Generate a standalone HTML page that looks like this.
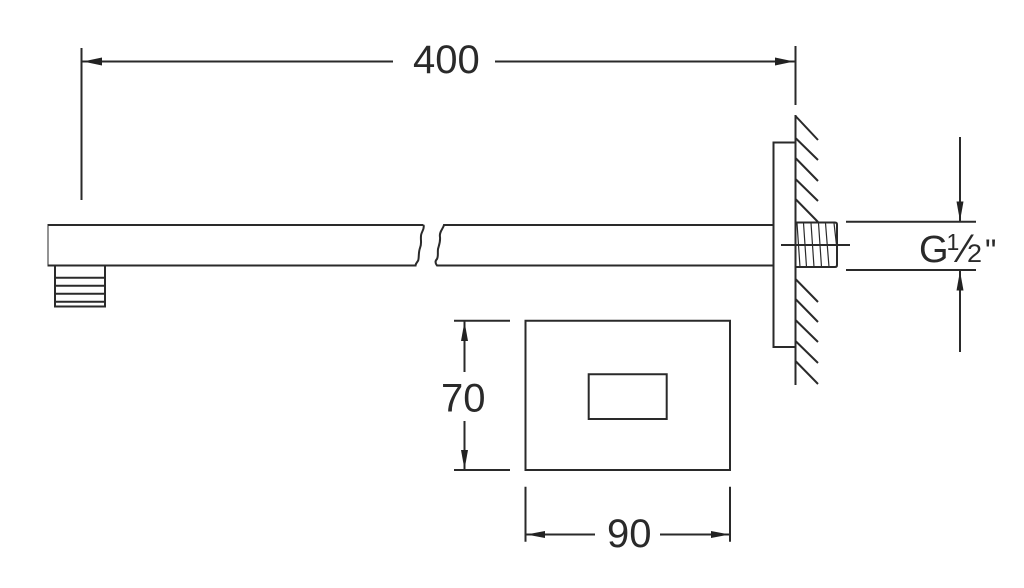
<!DOCTYPE html>
<html>
<head>
<meta charset="utf-8">
<style>
html,body{margin:0;padding:0;background:#fff;width:1024px;height:588px;overflow:hidden}
svg{display:block}
text{font-family:"Liberation Sans",sans-serif;fill:#2a2a2a}
</style>
</head>
<body>
<svg width="1024" height="588" viewBox="0 0 1024 588" xmlns="http://www.w3.org/2000/svg">
<defs><filter id="b" x="0" y="0" width="100%" height="100%"><feGaussianBlur stdDeviation="0.35"/></filter></defs>
<rect width="1024" height="588" fill="#fff"/>
<g filter="url(#b)">
<g fill="none" stroke="#2a2a2a" stroke-width="2">
  <!-- top dimension -->
  <path d="M81.500 48V200M795.500 46V105M82 61.500H393M495 61.500H795"/>
  <!-- arm -->
  <path d="M423.500 225H47.500V265.500H416.500"/>
  <path d="M423.500 225C425 229 421 232 421 236C420.500 241 422 243 420 248C418.500 252 419 256 418.500 259C418.500 262 416 262 415.500 265.500"/>
  <path d="M773 225H444C443 229 439 232 440 237C440.500 242 439 245 438 249C437.500 253 438.500 256 437 259C435 261 435 263 437 265.500H773"/>
  <!-- nozzle -->
  <path d="M55 265.500V306.500H105V265.500M55 277.700H105M55 285.700H105M55 293.700H105M55 301.700H105"/>
  <!-- flange and wall -->
  <path d="M795.500 142.500H773.500V347H795.500M795.500 115V385"/>
  <path d="M795.500 116L818 140M795.500 138L818 160M795.500 158L818 181M795.500 179L818 201M795.500 199L818 222M795.500 279L818 302M795.500 299L818 322M795.500 320L818 342M795.500 341L818 363M795.500 361L818 384"/>
  <!-- thread -->
  <path d="M795.500 222.500H835Q837 222.500 837 224.500V265Q837 267 835 267H795.500"/>
  <path stroke-width="1.200" d="M797 223L800 267M803.500 223L806.500 267M811 223L814 267M818.500 223L821.500 267M825.500 223L829 267M834 223L836.500 245"/>
  <path d="M781 245H850M846 221.800H976M846 270H976"/>
  <!-- G1/2 dimension -->
  <path d="M960 137V221M960 271V352"/>
  <!-- front view -->
  <path d="M525.500 320.700H730V470H525.500Z"/>
  <path d="M588.700 374.300H666.700V419H588.700Z"/>
  <path d="M454 320.700H510M454 470H510M464.500 321V372M464.500 421V470"/>
  <path d="M525.500 486.700V541.700M730 486.700V541.700M526 534.500H595M660 534.500H730"/>
</g>
<g fill="#222" stroke="none">
  <path d="M83 61.500L102 57.500V65.500Z"/>
  <path d="M794 61.500L775 57.500V65.500Z"/>
  <path d="M960 221L956.500 201.500H963.500Z"/>
  <path d="M960 271L956.500 290.500H963.500Z"/>
  <path d="M464.500 321.500L461 341H468Z"/>
  <path d="M464.500 469.500L461 450H468Z"/>
  <path d="M526.500 534.500L545 531V538Z"/>
  <path d="M729.500 534.500L711 531V538Z"/>
</g>
<text x="413" y="73" font-size="40">400</text>
<text x="441" y="411.500" font-size="40">70</text>
<text x="607" y="547" font-size="40">90</text>
<text x="919" y="262" font-size="38">G</text>
<text x="946.500" y="250" font-size="23">1</text>
<text x="962" y="262" font-size="40">⁄</text>
<text x="967" y="262" font-size="25" textLength="15" lengthAdjust="spacingAndGlyphs">2</text>
<text x="985" y="262" font-size="32">"</text>
</g>
</svg>
</body>
</html>
